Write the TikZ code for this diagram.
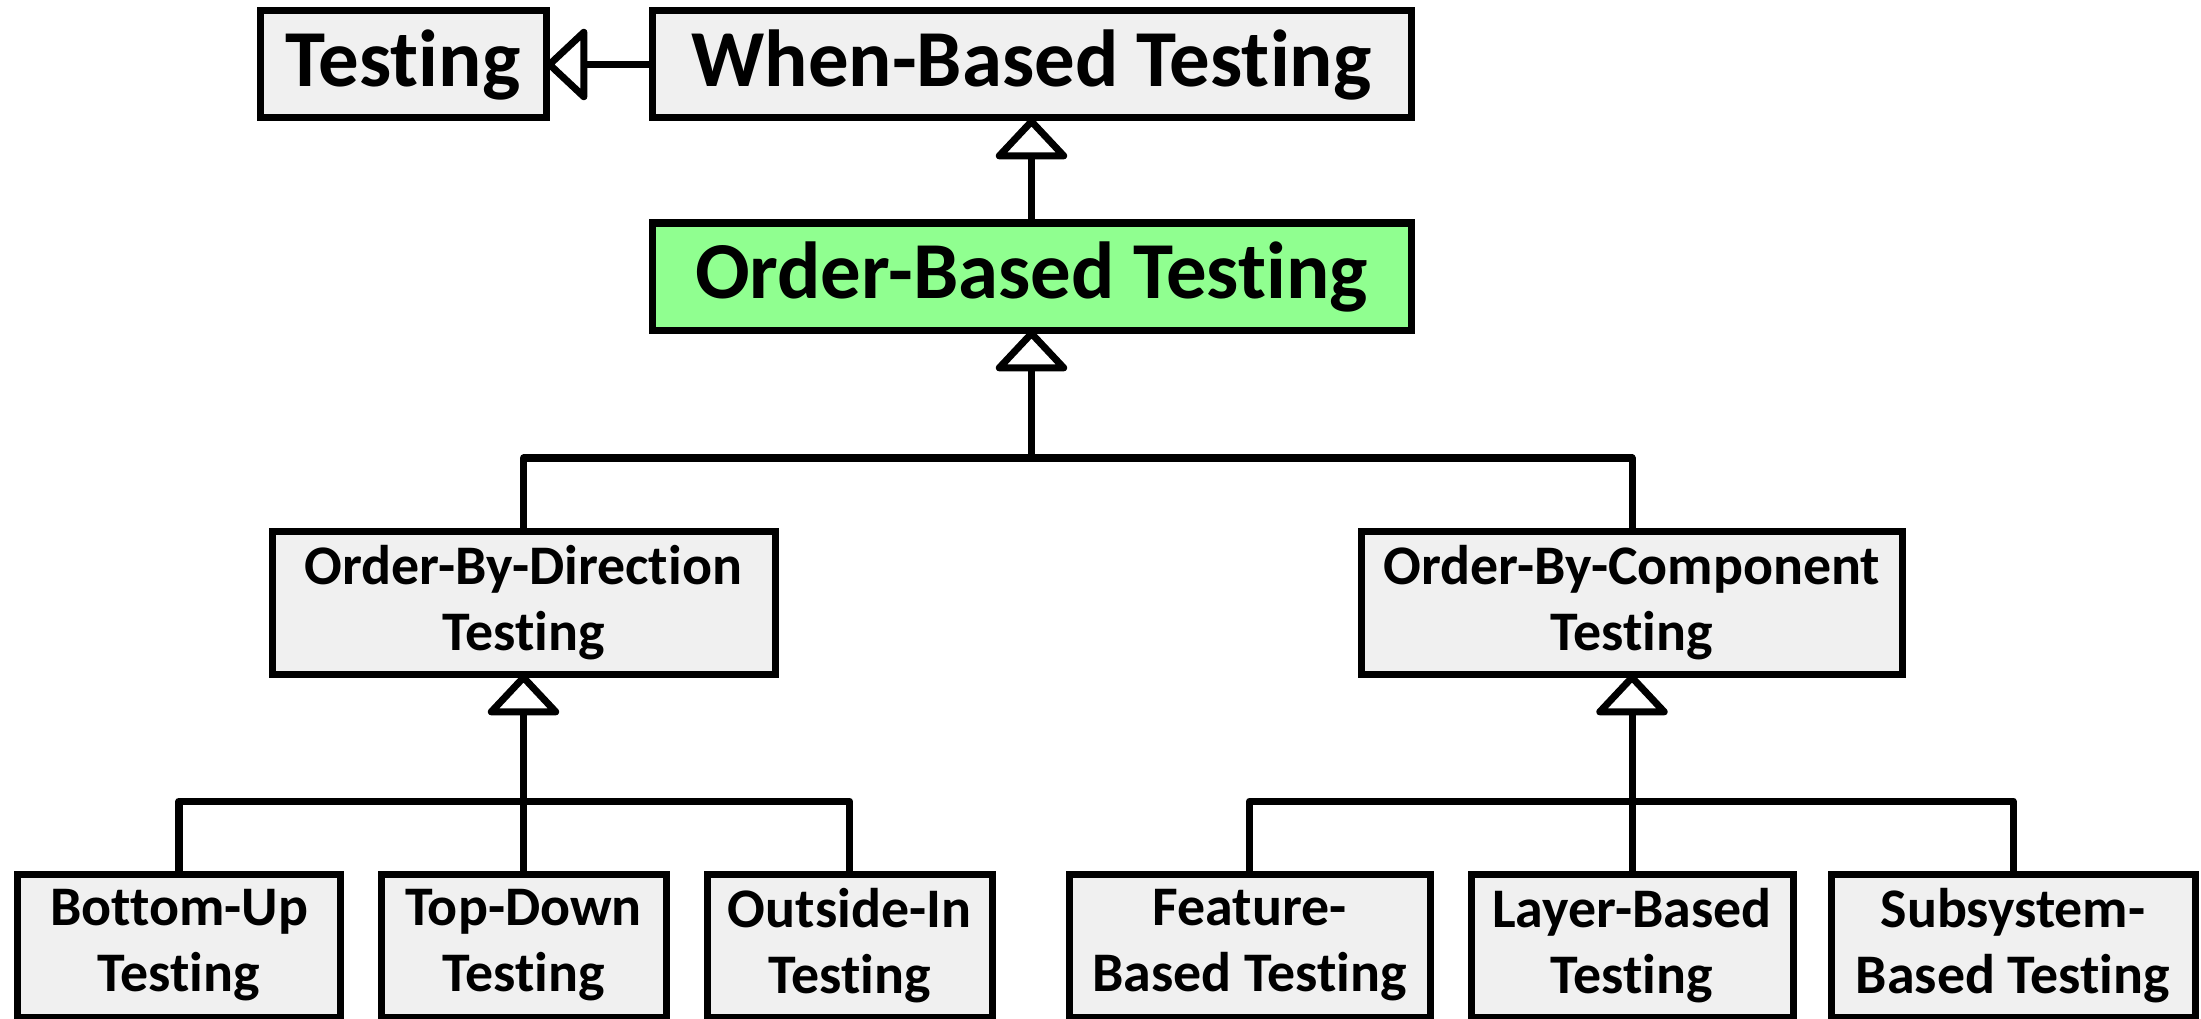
\documentclass[tikz,border=0pt]{standalone}
\usepackage{fontspec}
\setmainfont[Ligatures=NoCommon]{Carlito}
\usetikzlibrary{arrows.meta}
\definecolor{boxgray}{RGB}{240,240,240}
\definecolor{boxgreen}{RGB}{144,255,144}
\tikzset{
  box/.style={draw, fill=boxgray, line width=0.07cm, inner sep=0pt, outer sep=0pt,
    align=center, font=\bfseries\fontsize{15.9}{18.8}\selectfont},
  bigbox/.style={box, minimum height=1.07cm, font=\bfseries\fontsize{23}{27}\selectfont},
  smallbox/.style={box, minimum height=1.43cm},
  link/.style={line width=0.07cm, line join=round},
  gen/.style={-{Triangle[open, round, length=0.43cm, width=0.79cm]}},
}
\begin{document}
\begin{tikzpicture}
\useasboundingbox (0,0) rectangle (22.01,10.18);

% Top row
\node[bigbox, minimum width=2.86cm] (testing) at (4.03,9.535) {Testing};
\node[bigbox, minimum width=7.59cm] (when) at (10.315,9.535) {When-Based Testing};
\node[bigbox, minimum width=7.59cm, fill=boxgreen] (order) at (10.315,7.415) {Order-Based Testing};

% Middle row
\node[smallbox, minimum width=5.03cm] (dir) at (5.235,4.155) {Order-By-Direction\\Testing};
\node[smallbox, minimum width=5.41cm] (comp) at (16.32,4.155) {Order-By-Component\\Testing};

% Bottom row
\node[smallbox, minimum width=3.22cm] (bu) at (1.79,0.725) {Bottom-Up\\Testing};
\node[smallbox, minimum width=2.85cm] (td) at (5.235,0.725) {Top-Down\\Testing};
\node[smallbox, minimum width=2.85cm] (oi) at (8.495,0.725) {Outside-In\\Testing};
\node[smallbox, minimum width=3.61cm] (fb) at (12.495,0.725) {Feature-\\Based Testing};
\node[smallbox, minimum width=3.22cm] (lb) at (16.32,0.725) {Layer-Based\\Testing};
\node[smallbox, minimum width=3.64cm] (sb) at (20.13,0.725) {Subsystem-\\Based Testing};

% Generalisations
\draw[link, gen] (when) -- (testing);
\draw[link, gen] (order) -- (when);

\coordinate (bus1) at (10.315,5.60);
\draw[link] (dir.north) |- (bus1) -| (comp.north);
\draw[link, gen] (bus1) -- (order);

\coordinate (bus2) at (5.235,2.17);
\draw[link] (bu.north) |- (bus2) -| (oi.north);
\draw[link] (td) -- (bus2);
\draw[link, gen] (bus2) -- (dir);

\coordinate (bus3) at (16.32,2.17);
\draw[link] (fb.north) |- (bus3) -| (sb.north);
\draw[link] (lb) -- (bus3);
\draw[link, gen] (bus3) -- (comp);

\end{tikzpicture}
\end{document}
